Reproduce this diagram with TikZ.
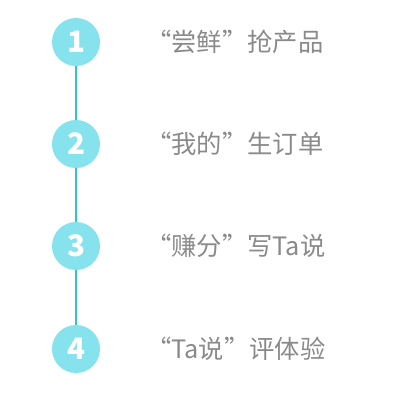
\documentclass[tikz,border=0pt]{standalone}
\usepackage{fontspec}
\setmainfont{Noto Sans CJK SC}
\newfontfamily\numfont{Noto Sans CJK SC Black}
\usetikzlibrary{positioning}
\definecolor{StepCyan}{RGB}{134,227,238}
\definecolor{LineCyan}{RGB}{41,197,214}
\definecolor{TextGray}{RGB}{138,138,138}
\tikzset{
  stepdot/.style={circle,fill=StepCyan,text=white,font=\numfont\fontsize{21pt}{21pt}\selectfont,minimum size=1.2cm,inner sep=0pt},
  steptext/.style={anchor=west,text=TextGray,font=\fontsize{18pt}{20pt}\selectfont,inner sep=0pt},
  link/.style={line width=1.2pt,draw=LineCyan}
}
\begin{document}
\begin{tikzpicture}[x=0.025cm,y=-0.025cm]
  \useasboundingbox (0,0) rectangle (400,400);
  \draw[link] (76,42)--(76,349);
  \node[stepdot] (s1) at (76,42) {1};
  \node[stepdot] (s2) at (76,144) {2};
  \node[stepdot] (s3) at (76,246) {3};
  \node[stepdot] (s4) at (76,349) {4};
  \node[steptext] (t1) at (146,42) {“尝鲜”抢产品};
  \node[steptext] (t2) at (146,144) {“我的”生订单};
  \node[steptext] (t3) at (146,246) {“赚分”写Ta说};
  \node[steptext] (t4) at (146,349) {“Ta说”评体验};
\end{tikzpicture}
\end{document}
